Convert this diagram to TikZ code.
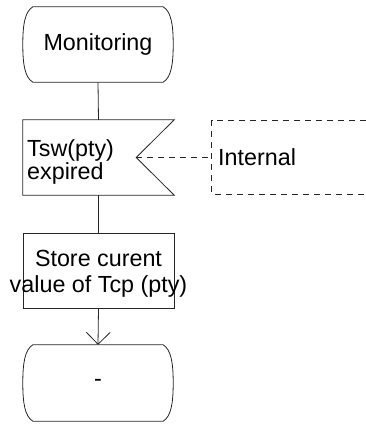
\documentclass[tikz,border=0pt]{standalone}
\usepackage{fontspec}
\setmainfont{Liberation Sans}
\usetikzlibrary{calc,arrows.meta}
\newcommand\drawstateoutline[1]{%
  \draw[outl] ($(#1.north west)+(10,0)$) -- ($(#1.north east)+(-10,0)$)
    .. controls +(8,5) and +(0,-20) .. (#1.east)
    .. controls +(0,20) and +(8,-5) .. ($(#1.south east)+(-10,0)$)
    -- ($(#1.south west)+(10,0)$)
    .. controls +(-8,-5) and +(0,20) .. (#1.west)
    .. controls +(0,-20) and +(-8,5) .. ($(#1.north west)+(10,0)$) -- cycle;}
\begin{document}
\begin{tikzpicture}[x=1bp,y=-1bp,
  outl/.style={line width=0.8bp,draw=black!85},
  txt/.style={font=\fontsize{23.4}{24}\selectfont,inner sep=0pt},
  statebox/.style={minimum width=150bp,minimum height=75bp,inner sep=0pt,txt},
  taskbox/.style={outl,minimum width=151bp,minimum height=75bp,inner sep=0pt},
  conn/.style={line width=0.8bp,draw=black!85},
  dsh/.style={line width=0.8bp,draw=black!85,dash pattern=on 6bp off 5bp}]
\useasboundingbox (0,0) rectangle (366,428);
% Monitoring state
\node[statebox] (mon) at (98,44.5) {Monitoring};
\drawstateoutline{mon}
% signal input
\node[minimum width=151bp,minimum height=75bp,inner sep=0pt] (sig) at (98.5,157.5) {};
\coordinate (notch) at ($(sig.east)+(-38,0)$);
\draw[outl] (sig.north west) -- (sig.north east) -- (notch) -- (sig.south east) -- (sig.south west) -- cycle;
\node[txt,align=left,anchor=west,font=\fontsize{23.4}{23}\selectfont] (sigtext) at (27,162) {Tsw(pty)\\expired};
% external box
\node[minimum width=154bp,minimum height=73bp,inner sep=0pt] (ext) at (289,157.5) {};
\draw[dsh] (ext.north east) -- (ext.north west) -- (ext.south west) -- (ext.south east);
\draw[dsh] (notch) -- (notch -| ext.west);
\node[txt,anchor=west] (internal) at (218,157) {Internal};
% task
\node[taskbox,draw] (task) at (98.5,270.5) {};
\node[txt,align=center,font=\fontsize{23.4}{26}\selectfont] (tasktext) at (98.5,274) {Store curent\\value of Tcp (pty)};
% end state
\node[statebox,minimum height=76bp] (fin) at (98,383) {-};
\drawstateoutline{fin}
% connectors
\draw[conn] (mon.south) -- (sig.north);
\draw[conn] (sig.south) -- (task.north);
\draw[conn,-{Straight Barb[length=12bp,width=24bp,line width=0.8bp]}] (task.south) -- (fin.north);
\end{tikzpicture}
\end{document}
